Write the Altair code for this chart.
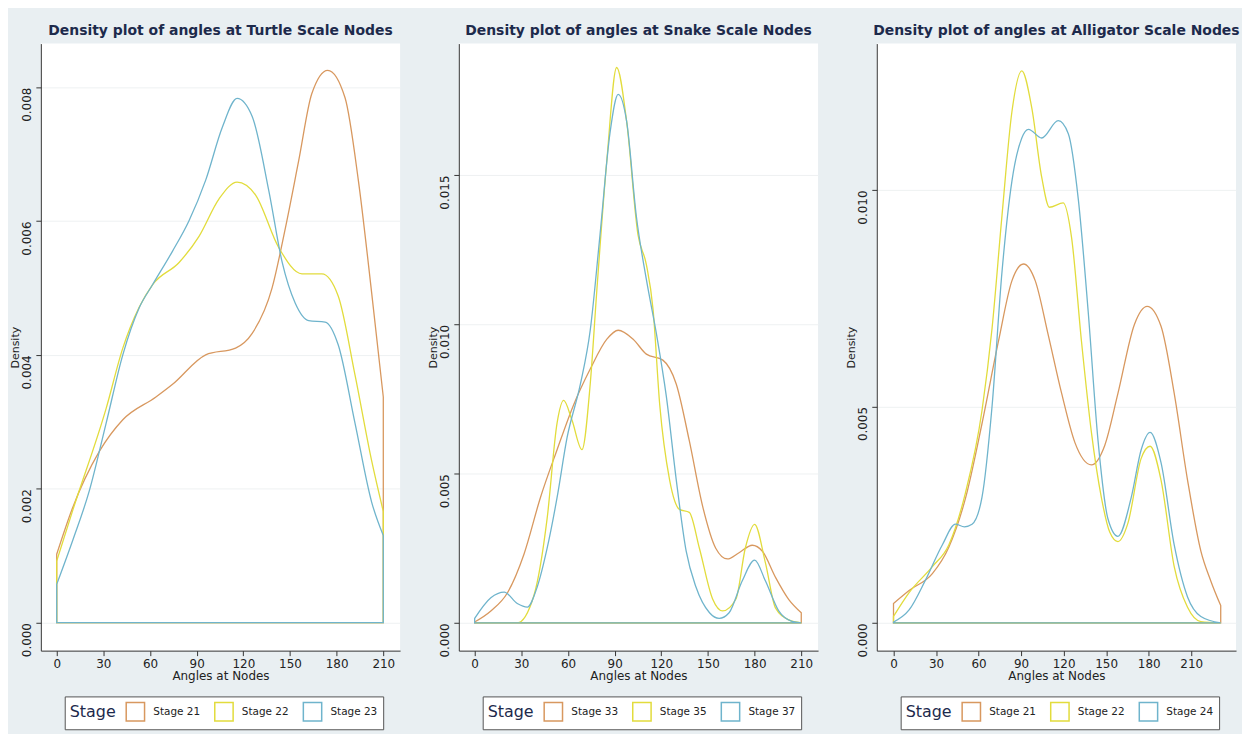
import altair as alt
import pandas as pd

# ---------------- data ----------------
# Turtle
t21_x = [0, 10, 27.5, 42.5, 63.8, 74.5, 95.8, 115, 125.7, 138.5, 147, 155.6, 164, 174.3, 185.4, 194, 202.5, 210]
t21_y = [0.00102, 0.0017, 0.00256, 0.00303, 0.00337, 0.00356, 0.0040, 0.0041, 0.00432, 0.0050, 0.00589, 0.0069, 0.0079, 0.00825, 0.00784, 0.0066, 0.00493, 0.00337]
t22_x = [0, 10.5, 31.8, 42.5, 53, 61.7, 78.7, 91.5, 104.4, 116, 127.8, 142.8, 157.7, 170.5, 181, 191.8, 202.5, 210]
t22_y = [0.00092, 0.00169, 0.0032, 0.0041, 0.00471, 0.00505, 0.00538, 0.00577, 0.00633, 0.00658, 0.00639, 0.0056, 0.00521, 0.00521, 0.00488, 0.0037, 0.00242, 0.00166]
t23_x = [0, 10.5, 21, 31.8, 42.5, 53, 61.7, 74.5, 85, 95.8, 106.5, 116, 125.7, 136.4, 145, 153.4, 162, 172.6, 181, 191.8, 202.5, 210]
t23_y = [0.00057, 0.00124, 0.00197, 0.00298, 0.0040, 0.0047, 0.00505, 0.00555, 0.0060, 0.00661, 0.0074, 0.00783, 0.00756, 0.00645, 0.00538, 0.00477, 0.00451, 0.00449, 0.00415, 0.00298, 0.0018, 0.0013]

# Snake
s33_x = [0, 10.4, 21, 31.7, 42.3, 53, 63.6, 74.3, 85, 92.3, 101.9, 110.4, 121, 129.6, 138, 146.6, 155, 162.5, 170, 178.5, 185, 193.4, 202, 210]
s33_y = [0.00003, 0.0004, 0.001, 0.0023, 0.0042, 0.0058, 0.0073, 0.0085, 0.0095, 0.0098, 0.0095, 0.0090, 0.0088, 0.0080, 0.0061, 0.0039, 0.0025, 0.00214, 0.00235, 0.0026, 0.0024, 0.00153, 0.00078, 0.00034]
s35_x = [0, 27.4, 38, 46.6, 53, 57.2, 62.5, 69, 74.3, 78.5, 85, 91.3, 97.7, 105, 110.4, 114.7, 119, 125.3, 131.7, 138, 144.5, 153, 159.4, 168, 174, 180, 187, 193.4, 202, 210]
s35_y = [0.0, 0.0, 0.0009, 0.0035, 0.0067, 0.00745, 0.0068, 0.0058, 0.0080, 0.0111, 0.0155, 0.0186, 0.0168, 0.0130, 0.0120, 0.0105, 0.0073, 0.0048, 0.0038, 0.0037, 0.0025, 0.0008, 0.0004, 0.0008, 0.0025, 0.0033, 0.0020, 0.0005, 0.0001, 0.0]
s37_x = [0, 10.4, 19, 27.4, 33.8, 40.2, 46.6, 53, 59.4, 68, 74.3, 80.6, 87, 92.3, 97.7, 104, 110.4, 116.8, 123.2, 129.6, 136, 142.3, 151, 157.2, 163.6, 172, 180, 187, 195.5, 204, 210]
s37_y = [0.00015, 0.00084, 0.00103, 0.00065, 0.00053, 0.0012, 0.0025, 0.0042, 0.0062, 0.0080, 0.0098, 0.0130, 0.0164, 0.0177, 0.0168, 0.0136, 0.0115, 0.0097, 0.0076, 0.0048, 0.0024, 0.0012, 0.00034, 0.00015, 0.00034, 0.0014, 0.0021, 0.0014, 0.0004, 0.00005, 0.0]

# Alligator
a21_x = [0, 11, 27.4, 39, 50.7, 62.4, 74, 83.5, 91.7, 100, 109, 118.6, 127.9, 139.6, 149, 158.3, 170, 178.9, 188.7, 198, 207.4, 216.8, 223.8, 230.8]
a21_y = [0.00045, 0.00075, 0.00114, 0.00175, 0.00287, 0.0046, 0.0065, 0.0079, 0.00829, 0.0079, 0.00667, 0.0053, 0.00417, 0.00365, 0.0041, 0.0053, 0.0069, 0.00731, 0.00685, 0.0053, 0.0033, 0.00166, 0.00097, 0.0004]
a22_x = [0, 11, 27.4, 39, 50.7, 62.4, 69.5, 76.5, 83.5, 90.5, 97.5, 104.5, 110, 119.7, 125.6, 132.6, 139.6, 146.6, 152.5, 158.3, 165.3, 174.7, 181, 188.7, 198, 207.4, 216.8, 230.8]
a22_y = [0.00015, 0.0007, 0.0013, 0.0018, 0.0030, 0.0049, 0.0068, 0.0094, 0.0118, 0.01275, 0.0119, 0.0103, 0.0096, 0.0097, 0.0089, 0.0065, 0.0044, 0.0029, 0.0021, 0.00188, 0.0023, 0.0038, 0.00408, 0.0033, 0.0013, 0.00036, 0.00003, 0.0]
a24_x = [0, 11, 22.7, 34.4, 43.7, 50, 55.4, 62.4, 69.5, 76.5, 83.5, 90.5, 95.2, 104.5, 116.2, 123.3, 130.3, 137.3, 144.3, 151.3, 158.3, 167.7, 174.7, 181, 188.7, 198, 207.4, 216.8, 230.8]
a24_y = [0.00002, 0.0003, 0.0010, 0.0018, 0.00228, 0.00222, 0.00228, 0.0029, 0.0050, 0.0081, 0.0102, 0.0112, 0.0114, 0.0112, 0.0116, 0.0113, 0.0098, 0.0072, 0.0042, 0.0024, 0.0020, 0.0029, 0.0040, 0.0044, 0.0037, 0.0018, 0.0006, 0.00015, 0.0]

panel_titles = [
    "Density plot of angles at Turtle Scale Nodes",
    "Density plot of angles at Snake Scale Nodes",
    "Density plot of angles at Alligator Scale Nodes",
]
stages = [
    ["Stage 21", "Stage 22", "Stage 23"],
    ["Stage 33", "Stage 35", "Stage 37"],
    ["Stage 21", "Stage 22", "Stage 24"],
]
curves = [
    [(t21_x, t21_y), (t22_x, t22_y), (t23_x, t23_y)],
    [(s33_x, s33_y), (s35_x, s35_y), (s37_x, s37_y)],
    [(a21_x, a21_y), (a22_x, a22_y), (a24_x, a24_y)],
]
x_ticks = [0, 30, 60, 90, 120, 150, 180, 210]
y_ticks = [
    [0.0, 0.002, 0.004, 0.006, 0.008],
    [0.0, 0.005, 0.010, 0.015],
    [0.0, 0.005, 0.010],
]
x_domains = [[-10.2, 220.8], [-10.2, 220.8], [-11.8, 241.6]]
y_domains = [[-0.00042, 0.00865], [-0.00093, 0.0194], [-0.00064, 0.01338]]
colors = ["#d8985f", "#e2dc3c", "#6fb4cc"]

FONT = "DejaVu Sans"
BG = "#e9eff2"


def panel(i):
    rows = []
    for k, (xs, ys) in enumerate(curves[i]):
        for x, y in zip(xs, ys):
            rows.append({"angle": x, "density": y, "stage": stages[i][k], "k": k})
    df = pd.DataFrame(rows)
    chart = (
        alt.Chart(df)
        .mark_area(fill="white", fillOpacity=0, strokeWidth=1.3, interpolate="monotone")
        .encode(
            x=alt.X(
                "angle:Q",
                scale=alt.Scale(domain=x_domains[i], nice=False, zero=False),
                axis=alt.Axis(
                    values=x_ticks,
                    title="Angles at Nodes",
                    grid=False,
                    labelFontSize=12,
                    titleFontSize=12,
                    titleFontWeight="normal",
                    titlePadding=1,
                    labelPadding=3,
                    tickSize=5,
                    labelFlush=False,
                ),
            ),
            y=alt.Y(
                "density:Q",
                scale=alt.Scale(domain=y_domains[i], nice=False, zero=False),
                axis=alt.Axis(
                    values=y_ticks[i],
                    format=".3f",
                    title="Density",
                    labelAngle=-90,
                    labelAlign="right",
                    labelBaseline="bottom",
                    labelFontSize=12,
                    titleFontSize=11,
                    titleFontWeight="normal",
                    titlePadding=0,
                    labelPadding=2,
                    tickSize=5,
                    grid=True,
                    gridColor="#eef1f2",
                    labelFlush=False,
                ),
            ),
            y2=alt.datum(0),
            stroke=alt.Stroke(
                "stage:N",
                scale=alt.Scale(domain=stages[i], range=colors),
                legend=alt.Legend(
                    title="Stage",
                    orient="none",
                    legendX=24,
                    legendY=656,
                    direction="horizontal",
                    titleOrient="left",
                    titleFontSize=16,
                    titleFontWeight="normal",
                    titlePadding=9,
                    labelFontSize=10.5,
                    symbolType="square",
                    symbolSize=340,
                    symbolStrokeWidth=1.5,
                    symbolFillColor="white",
                    fillColor="white",
                    strokeColor="#555555",
                    padding=5,
                    columnPadding=10,
                    labelOffset=8,
                ),
            ),
            order=alt.Order("k:Q"),
        )
        .properties(
            width=361,
            height=610,
            title=alt.TitleParams(
                panel_titles[i],
                fontSize=14,
                fontWeight="bold",
                color="#1d2a4c",
                offset=6,
                anchor="middle",
            ),
        )
    )
    return chart


chart = (
    alt.hconcat(panel(0), panel(1), panel(2), spacing=28)
    .resolve_scale(stroke="independent")
    .resolve_legend(stroke="independent")
    .properties(background=BG, padding={"left": 2, "top": 14, "right": 2, "bottom": 2})
    .configure(font=FONT)
    .configure_view(fill="white", stroke=None)
    .configure_axis(
        domainColor="#333333",
        tickColor="#333333",
        labelColor="#222222",
        titleColor="#222222",
        labelFont=FONT,
        titleFont=FONT,
    )
    .configure_legend(labelFont=FONT, titleFont=FONT, labelColor="#222222", titleColor="#1d2a4c")
    .configure_title(font=FONT)
)

chart.save("out.html", embed_options={"renderer": "svg", "actions": False})
